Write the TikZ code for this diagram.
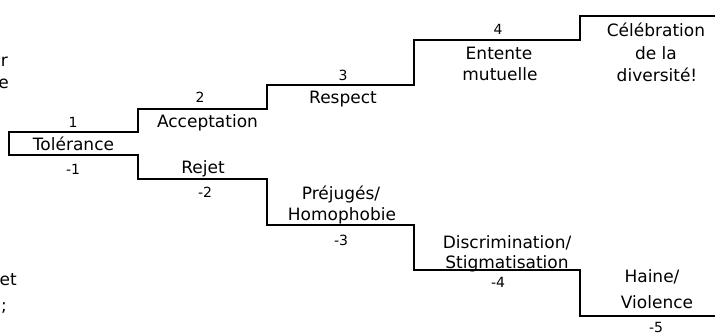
\documentclass[tikz,border=0pt]{standalone}
\usepackage{fontspec}
\setmainfont{DejaVu Sans}
\begin{document}
\begin{tikzpicture}[x=1pt,y=-1pt,
  stairline/.style={line width=2pt,line join=miter},
  lbl/.style={inner sep=0pt,anchor=base,font=\fontsize{17}{20}\selectfont},
  num/.style={inner sep=0pt,anchor=base,font=\fontsize{14}{16}\selectfont},
  frag/.style={inner sep=0pt,anchor=base east,font=\fontsize{17}{20}\selectfont}]
\path[use as bounding box] (0,0) rectangle (715,334);
\clip (0,0) rectangle (715,334);
% stair corners
\coordinate (a0) at (9,132);
\coordinate (a1) at (138,132);
\coordinate (a2) at (138,109);
\coordinate (a3) at (267,109);
\coordinate (a4) at (267,85);
\coordinate (a5) at (414,85);
\coordinate (a6) at (414,40);
\coordinate (a7) at (580,40);
\coordinate (a8) at (580,16);
\coordinate (a9) at (716,16);
\coordinate (b0) at (9,155);
\coordinate (b1) at (138,155);
\coordinate (b2) at (138,179);
\coordinate (b3) at (267,179);
\coordinate (b4) at (267,225);
\coordinate (b5) at (414,225);
\coordinate (b6) at (414,270);
\coordinate (b7) at (580,270);
\coordinate (b8) at (580,316);
\coordinate (b9) at (716,316);
\draw[stairline] (a9) -- (a8) -- (a7) -- (a6) -- (a5) -- (a4) -- (a3) -- (a2) -- (a1) -- (a0)
  -- (b0) -- (b1) -- (b2) -- (b3) -- (b4) -- (b5) -- (b6) -- (b7) -- (b8) -- (b9);
% upper labels
\node[num] (p1) at (73,128) {1};
\node[lbl] (tol) at (73.5,151) {Tolérance};
\node[num] (m1) at (73,175) {-1};
\node[num] (p2) at (200,103) {2};
\node[lbl] (acc) at (207.5,128) {Acceptation};
\node[lbl] (rej) at (203,174) {Rejet};
\node[num] (m2) at (205,197) {-2};
\node[num] (p3) at (343,81) {3};
\node[lbl] (res) at (343,104) {Respect};
\node[num] (p4) at (498,35) {4};
\node[lbl] (ent1) at (499,60) {Entente};
\node[lbl] (ent2) at (500,81) {mutuelle};
\node[lbl] (cel1) at (656,37) {Célébration};
\node[lbl] (cel2) at (656,60) {de la};
\node[lbl] (cel3) at (657,82) {diversité!};
% lower labels
\node[lbl] (pre1) at (341,200) {Préjugés/};
\node[lbl] (pre2) at (342,220) {Homophobie};
\node[num] (m3) at (341,245) {-3};
\node[lbl] (dis1) at (507,248) {Discrimination/};
\node[lbl] (dis2) at (507,268) {Stigmatisation};
\node[num] (m4) at (498,287) {-4};
\node[lbl] (hai1) at (652,282) {Haine/};
\node[lbl] (hai2) at (657,308) {Violence};
\node[num] (m5) at (656,332) {-5};
% cut-off text at the left edge
\node[frag] (f1) at (8,67) {r};
\node[frag] (f2) at (9,89) {e};
\node[frag] (f3) at (2,233) {.};
\node[frag] (f4) at (17,285) {et};
\node[frag] (f5) at (7,311) {;};
\end{tikzpicture}
\end{document}
